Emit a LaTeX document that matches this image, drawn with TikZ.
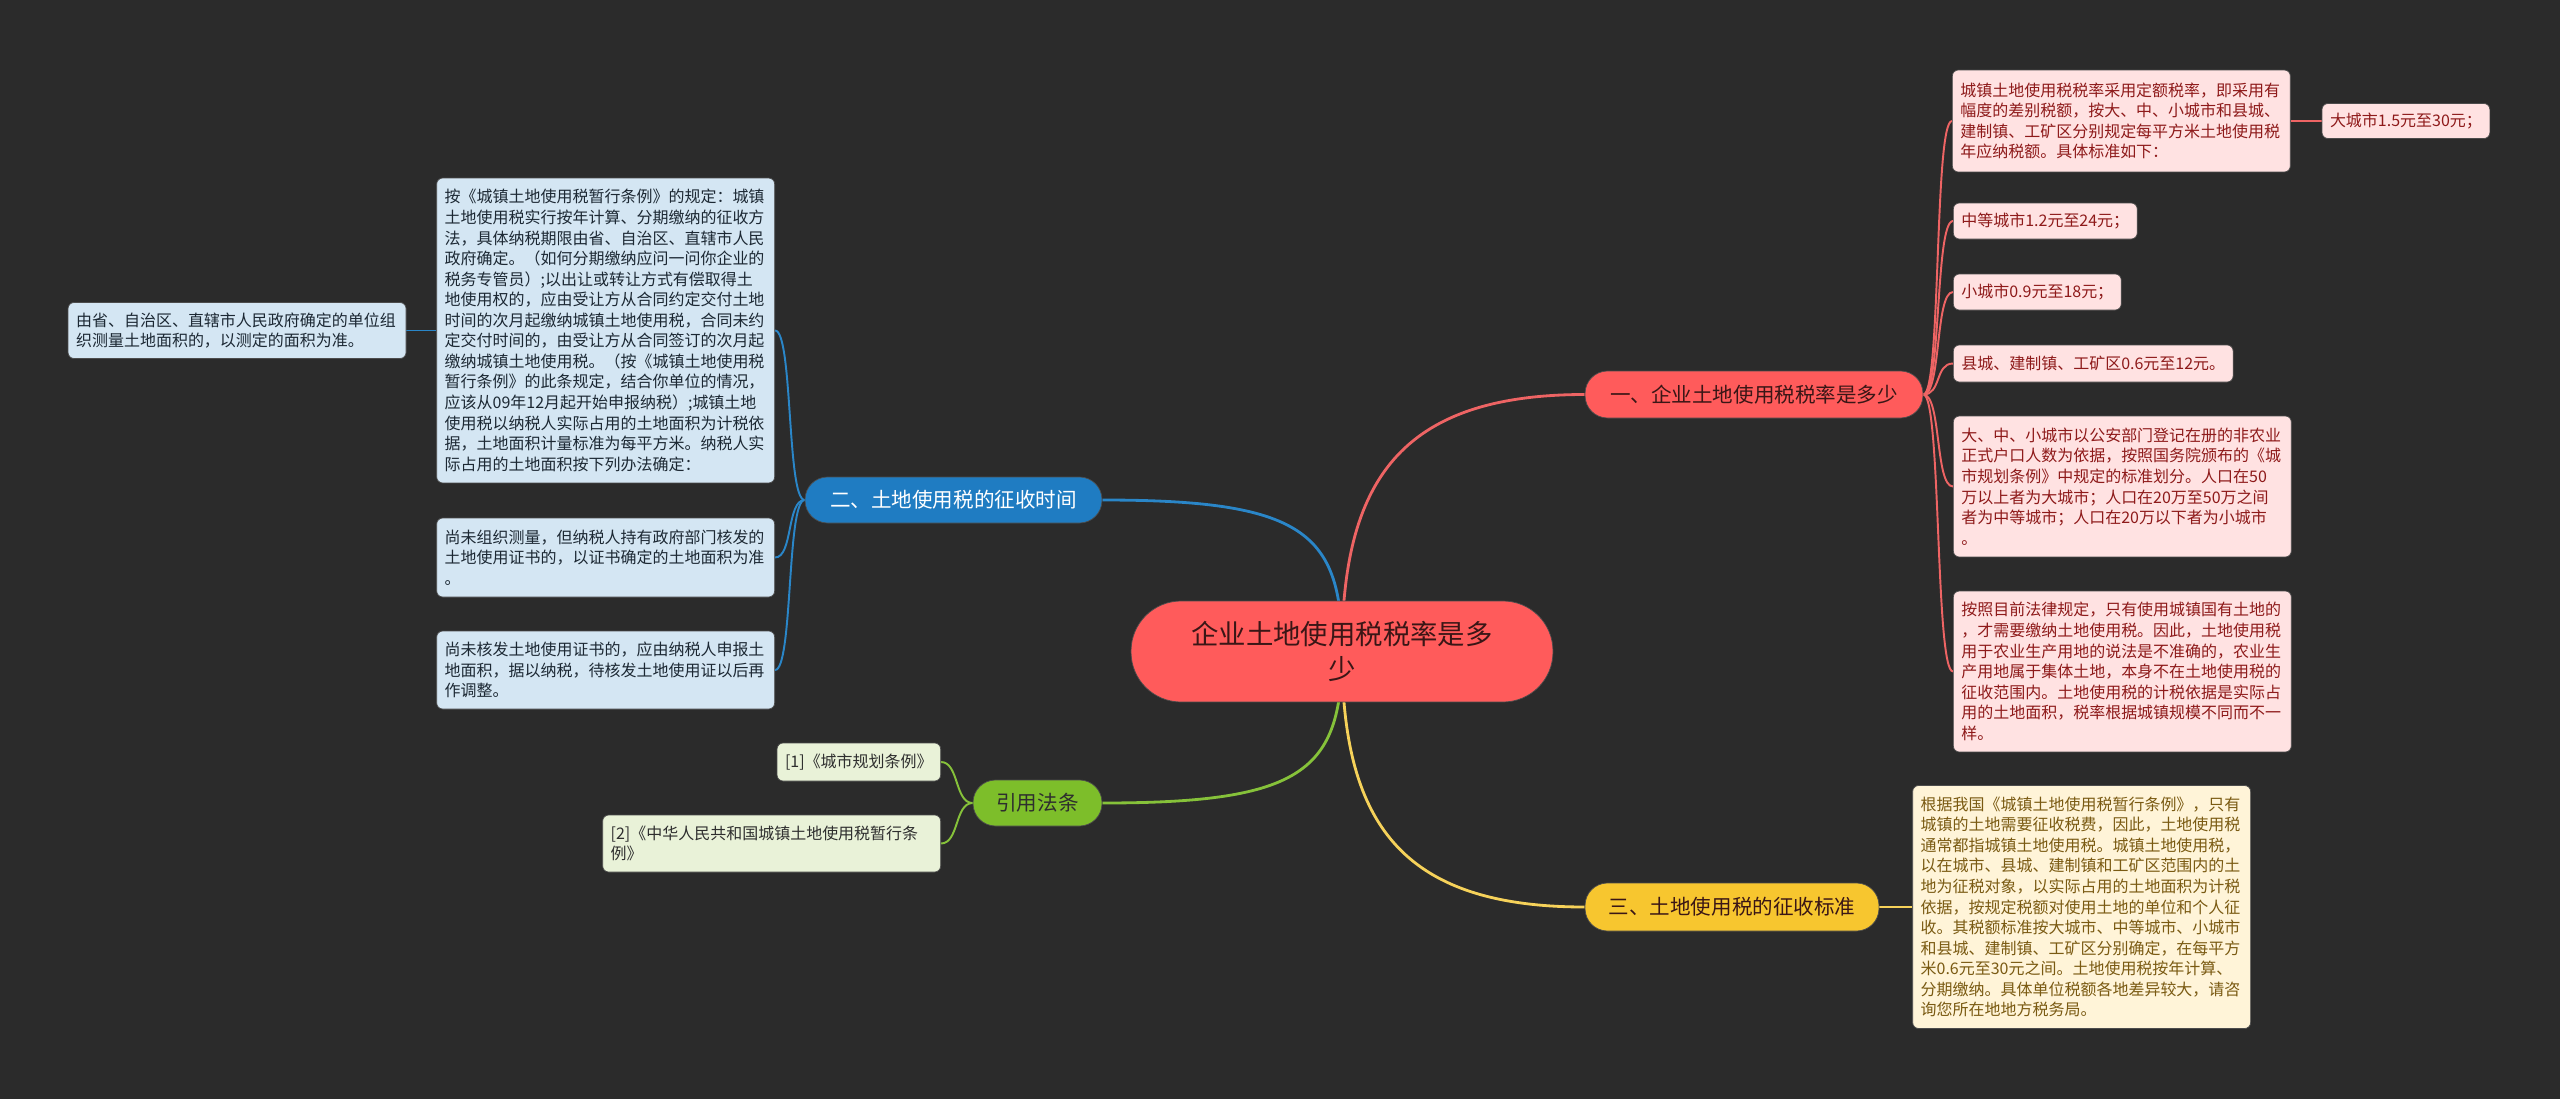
\documentclass[tikz,border=0pt]{standalone}
\usepackage{fontspec}
\newfontfamily\cjk{Noto Sans CJK SC}
\usetikzlibrary{positioning}

\definecolor{canvas}{HTML}{2B2B2B}
\definecolor{rootred}{HTML}{FF5B5B}
\definecolor{rootink}{HTML}{3A1616}
\definecolor{redline}{HTML}{EE6464}
\definecolor{redsoft}{HTML}{FFE2E2}
\definecolor{redink}{HTML}{8E1A1A}
\definecolor{bluetopic}{HTML}{1F7CC2}
\definecolor{blueline}{HTML}{2A86C8}
\definecolor{bluesoft}{HTML}{D4E6F3}
\definecolor{blueink}{HTML}{1C2833}
\definecolor{greentopic}{HTML}{7DBE2A}
\definecolor{greenline}{HTML}{86C23A}
\definecolor{greensoft}{HTML}{E9F2D8}
\definecolor{greenink}{HTML}{2E2E2E}
\definecolor{yellowtopic}{HTML}{F7C62F}
\definecolor{yellowline}{HTML}{F6D25A}
\definecolor{yellowsoft}{HTML}{FFF4D8}
\definecolor{yellowink}{HTML}{7A5A12}

\newcommand{\leaffont}{\cjk\fontsize{9.1}{11.7}\selectfont}
\newcommand{\topicfont}{\cjk\fontsize{11.7}{14}\selectfont}
\newcommand{\rootfont}{\cjk\fontsize{15.6}{19.8}\selectfont}

\pgfdeclarelayer{back}
\pgfsetlayers{back,main}

\tikzset{
  leaf/.style={draw=black!70, line width=0.4pt, rounded corners=0.12cm,
               inner xsep=0.16cm, inner ysep=0.06cm, align=left, font=\leaffont},
  wide/.style={text width=6.44cm},
  redleaf/.style={leaf, fill=redsoft, text=redink},
  blueleaf/.style={leaf, fill=bluesoft, text=blueink},
  greenleaf/.style={leaf, fill=greensoft, text=greenink},
  yellowleaf/.style={leaf, fill=yellowsoft, text=yellowink},
  topic/.style={draw=black!70, line width=0.4pt, rounded corners=0.45cm, font=\topicfont},
  stem/.style={line width=1.6pt},
  twig/.style={line width=1.1pt}
}

\begin{document}
\begin{tikzpicture}[x=0.02cm, y=-0.02cm]
    \useasboundingbox (0,0) rectangle (2560,1099);
    \begin{pgfonlayer}{back}
        \fill[canvas] (0,0) rectangle (2560,1099);
    \end{pgfonlayer}

    % Root in the middle
    \node[draw=black!70, line width=0.4pt, fill=rootred, text=rootink, rounded corners=1cm,
          minimum width=8.44cm, minimum height=2.02cm, align=center, font=\rootfont]
        (root) at (1342,651.5) {企业土地使用税税率是多\\少};

    % Four main topics
    \node[topic, fill=rootred, text=rootink, minimum width=6.76cm, minimum height=0.94cm]
        (rate) at (1754,394.5) {一、企业土地使用税税率是多少};
    \node[topic, fill=bluetopic, text=white, minimum width=5.94cm, minimum height=0.92cm]
        (time) at (953.5,500) {二、土地使用税的征收时间};
    \node[topic, fill=yellowtopic, text=rootink, minimum width=5.88cm, minimum height=0.96cm]
        (norm) at (1732,907) {三、土地使用税的征收标准};
    \node[topic, fill=greentopic, text=greenink, minimum width=2.58cm, minimum height=0.92cm]
        (laws) at (1037.5,803) {引用法条};

    % Rate leaves (right side)
    \node[redleaf, wide, anchor=west, minimum height=2.04cm] (rate1) at (1952,121)
        {城镇土地使用税税率采用定额税率，即采用有\\幅度的差别税额，按大、中、小城市和县城、\\建制镇、工矿区分别规定每平方米土地使用税\\年应纳税额。具体标准如下：};
    \node[redleaf, right=0.62cm of rate1, minimum height=0.70cm] (big) {大城市1.5元至30元；};
    \node[redleaf, anchor=west, minimum height=0.72cm] (mid) at (1953,221) {中等城市1.2元至24元；};
    \node[redleaf, anchor=west, minimum height=0.72cm] (small) at (1953,292) {小城市0.9元至18元；};
    \node[redleaf, anchor=west, minimum height=0.74cm] (town) at (1953,363.5) {县城、建制镇、工矿区0.6元至12元。};
    \node[redleaf, wide, anchor=west, minimum height=2.82cm] (rate5) at (1953,486.5)
        {大、中、小城市以公安部门登记在册的非农业\\正式户口人数为依据，按照国务院颁布的《城\\市规划条例》中规定的标准划分。人口在50\\万以上者为大城市；人口在20万至50万之间\\者为中等城市；人口在20万以下者为小城市\\。};
    \node[redleaf, wide, anchor=west, minimum height=3.22cm] (rate6) at (1953,671.5)
        {按照目前法律规定，只有使用城镇国有土地的\\，才需要缴纳土地使用税。因此，土地使用税\\用于农业生产用地的说法是不准确的，农业生\\产用地属于集体土地，本身不在土地使用税的\\征收范围内。土地使用税的计税依据是实际占\\用的土地面积，税率根据城镇规模不同而不一\\样。};

    % Time leaves (left side)
    \node[blueleaf, wide, anchor=east, minimum height=6.10cm] (time1) at (775,330.5)
        {按《城镇土地使用税暂行条例》的规定：城镇\\土地使用税实行按年计算、分期缴纳的征收方\\法，具体纳税期限由省、自治区、直辖市人民\\政府确定。（如何分期缴纳应问一问你企业的\\税务专管员）;以出让或转让方式有偿取得土\\地使用权的，应由受让方从合同约定交付土地\\时间的次月起缴纳城镇土地使用税，合同未约\\定交付时间的，由受让方从合同签订的次月起\\缴纳城镇土地使用税。（按《城镇土地使用税\\暂行条例》的此条规定，结合你单位的情况，\\应该从09年12月起开始申报纳税）;城镇土地\\使用税以纳税人实际占用的土地面积为计税依\\据，土地面积计量标准为每平方米。纳税人实\\际占用的土地面积按下列办法确定：};
    \node[blueleaf, wide, left=0.6cm of time1, minimum height=1.12cm] (measured)
        {由省、自治区、直辖市人民政府确定的单位组\\织测量土地面积的，以测定的面积为准。};
    \node[blueleaf, wide, anchor=east, minimum height=1.58cm] (time2) at (775,557.5)
        {尚未组织测量，但纳税人持有政府部门核发的\\土地使用证书的，以证书确定的土地面积为准\\。};
    \node[blueleaf, wide, anchor=east, minimum height=1.56cm] (time3) at (775,670)
        {尚未核发土地使用证书的，应由纳税人申报土\\地面积，据以纳税，待核发土地使用证以后再\\作调整。};

    % Cited laws
    \node[greenleaf, anchor=east, minimum height=0.76cm] (law1) at (941,762) {[1]《城市规划条例》};
    \node[greenleaf, wide, anchor=east, minimum height=1.14cm] (law2) at (941,843.5)
        {[2]《中华人民共和国城镇土地使用税暂行条\\例》};

    % Standard leaf
    \node[yellowleaf, wide, right=0.66cm of norm, minimum height=4.86cm] (norm1)
        {根据我国《城镇土地使用税暂行条例》，只有\\城镇的土地需要征收税费，因此，土地使用税\\通常都指城镇土地使用税。城镇土地使用税，\\以在城市、县城、建制镇和工矿区范围内的土\\地为征税对象，以实际占用的土地面积为计税\\依据，按规定税额对使用土地的单位和个人征\\收。其税额标准按大城市、中等城市、小城市\\和县城、建制镇、工矿区分别确定，在每平方\\米0.6元至30元之间。土地使用税按年计算、\\分期缴纳。具体单位税额各地差异较大，请咨\\询您所在地地方税务局。};

    % Connectors behind the nodes
    \begin{pgfonlayer}{back}
        \draw[stem, redline] (root.center) .. controls +(0,-170) and +(-185,0) .. (rate.west);
        \draw[stem, blueline] (root.center) .. controls +(0,-120) and +(200,0) .. (time.east);
        \draw[stem, greenline] (root.center) .. controls +(0,120) and +(200,0) .. (laws.east);
        \draw[stem, yellowline] (root.center) .. controls +(0,170) and +(-185,0) .. (norm.west);

        \foreach \leaf in {rate1,mid,small,town,rate5,rate6}
            \draw[twig, redline] (rate.east) .. controls +(18,0) and +(-18,0) .. (\leaf.west);
        \draw[twig, redline] (rate1.east) -- (big.west);

        \foreach \leaf in {time1,time2,time3}
            \draw[twig, blueline] (time.west) .. controls +(-18,0) and +(18,0) .. (\leaf.east);
        \draw[twig, blueline] (time1.west) -- (measured.east);

        \foreach \leaf in {law1,law2}
            \draw[twig, greenline] (laws.west) .. controls +(-18,0) and +(18,0) .. (\leaf.east);

        \draw[twig, yellowline] (norm.east) -- (norm1.west);
    \end{pgfonlayer}
\end{tikzpicture}
\end{document}
